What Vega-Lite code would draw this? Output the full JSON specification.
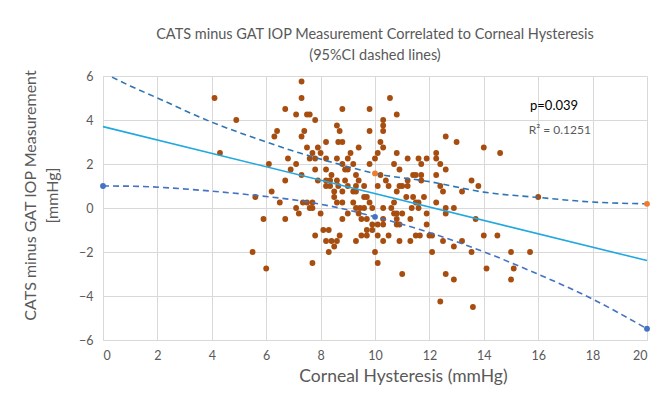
{
  "$schema": "https://vega.github.io/schema/vega-lite/v6.json",
  "width": 544,
  "height": 264,
  "autosize": {"type": "none"},
  "padding": {"left": 103, "top": 76, "right": 11, "bottom": 57},
  "background": "white",
  "config": {
    "font": "Lato",
    "view": {"stroke": null},
    "axis": {
      "gridColor": "#D9D9D9",
      "gridWidth": 1,
      "domainColor": "#D9D9D9",
      "ticks": false,
      "labelColor": "#595959",
      "labelFontSize": 12.5,
      "labelFont": "Lato",
      "titleColor": "#595959",
      "titleFont": "Lato",
      "titleFontSize": 16,
      "titleFontWeight": "normal"
    }
  },
  "title": {
    "text": ["CATS minus GAT IOP Measurement Correlated to Corneal Hysteresis", "(95%CI dashed lines)"],
    "font": "Lato",
    "fontSize": 14.5,
    "fontWeight": "normal",
    "color": "#595959",
    "anchor": "middle",
    "lineHeight": 21,
    "offset": 6
  },
  "datasets": {
    "pts": [
      {"ch": 4.1, "d": 5.0}, {"ch": 4.9, "d": 4.0}, {"ch": 4.3, "d": 2.5},
      {"ch": 7.3, "d": 5.75}, {"ch": 7.3, "d": 5.0}, {"ch": 6.7, "d": 4.5}, {"ch": 7.1, "d": 4.25}, {"ch": 7.5, "d": 4.25}, {"ch": 7.6, "d": 4.25}, {"ch": 7.8, "d": 4.0}, {"ch": 8.8, "d": 4.5},
      {"ch": 6.4, "d": 3.5}, {"ch": 6.3, "d": 3.25}, {"ch": 7.4, "d": 3.5}, {"ch": 7.3, "d": 3.25}, {"ch": 8.6, "d": 3.75}, {"ch": 8.7, "d": 3.5}, {"ch": 8.65, "d": 3.0}, {"ch": 8.8, "d": 3.0}, {"ch": 8.2, "d": 3.0},
      {"ch": 7.5, "d": 2.75}, {"ch": 7.9, "d": 2.75}, {"ch": 7.7, "d": 2.5}, {"ch": 8.0, "d": 2.5}, {"ch": 7.6, "d": 2.25}, {"ch": 7.8, "d": 2.25}, {"ch": 8.2, "d": 2.25}, {"ch": 6.8, "d": 2.25}, {"ch": 7.1, "d": 2.0}, {"ch": 6.1, "d": 2.0},
      {"ch": 6.9, "d": 1.75}, {"ch": 7.8, "d": 1.75}, {"ch": 7.3, "d": 1.5}, {"ch": 6.7, "d": 1.25}, {"ch": 7.9, "d": 1.25}, {"ch": 8.4, "d": 1.5}, {"ch": 8.6, "d": 2.25}, {"ch": 8.8, "d": 2.0}, {"ch": 9.1, "d": 2.5}, {"ch": 9.0, "d": 2.25},
      {"ch": 9.4, "d": 2.75}, {"ch": 9.2, "d": 2.0}, {"ch": 8.9, "d": 1.75}, {"ch": 9.0, "d": 1.75}, {"ch": 8.2, "d": 1.75}, {"ch": 9.3, "d": 1.5}, {"ch": 8.2, "d": 1.25}, {"ch": 8.35, "d": 1.25}, {"ch": 8.6, "d": 1.25}, {"ch": 8.9, "d": 1.25}, {"ch": 9.4, "d": 1.25},
      {"ch": 8.2, "d": 1.0}, {"ch": 8.35, "d": 1.0}, {"ch": 8.65, "d": 1.0}, {"ch": 9.0, "d": 1.0}, {"ch": 9.3, "d": 1.0}, {"ch": 9.6, "d": 1.0},
      {"ch": 10.55, "d": 5.0}, {"ch": 9.8, "d": 4.5}, {"ch": 10.8, "d": 4.25}, {"ch": 10.3, "d": 4.0}, {"ch": 10.3, "d": 3.75}, {"ch": 10.3, "d": 3.5}, {"ch": 9.8, "d": 3.5}, {"ch": 10.2, "d": 3.0}, {"ch": 10.3, "d": 2.75},
      {"ch": 12.6, "d": 3.25}, {"ch": 13.0, "d": 3.0}, {"ch": 10.1, "d": 2.5}, {"ch": 10.8, "d": 2.5}, {"ch": 10.0, "d": 2.25}, {"ch": 11.2, "d": 2.25}, {"ch": 11.6, "d": 2.25}, {"ch": 11.9, "d": 2.25}, {"ch": 12.25, "d": 2.5}, {"ch": 12.25, "d": 2.25},
      {"ch": 9.8, "d": 2.0}, {"ch": 10.7, "d": 2.0}, {"ch": 11.7, "d": 2.0}, {"ch": 12.4, "d": 2.0}, {"ch": 10.9, "d": 1.75}, {"ch": 12.6, "d": 1.75}, {"ch": 10.2, "d": 1.5}, {"ch": 11.4, "d": 1.5}, {"ch": 11.5, "d": 1.5}, {"ch": 11.7, "d": 1.5}, {"ch": 12.25, "d": 1.5},
      {"ch": 10.4, "d": 1.25}, {"ch": 11.2, "d": 1.25}, {"ch": 11.7, "d": 1.25}, {"ch": 13.55, "d": 1.25},
      {"ch": 10.1, "d": 1.0}, {"ch": 10.5, "d": 1.0}, {"ch": 10.9, "d": 1.0}, {"ch": 11.0, "d": 1.0}, {"ch": 11.2, "d": 1.0}, {"ch": 12.4, "d": 1.0}, {"ch": 13.8, "d": 1.0},
      {"ch": 8.5, "d": 0.75}, {"ch": 8.8, "d": 0.75}, {"ch": 9.2, "d": 0.75}, {"ch": 9.3, "d": 0.75}, {"ch": 6.2, "d": 0.75}, {"ch": 5.6, "d": 0.5}, {"ch": 8.5, "d": 0.5}, {"ch": 9.6, "d": 0.5},
      {"ch": 6.5, "d": 0.25}, {"ch": 7.35, "d": 0.25}, {"ch": 7.5, "d": 0.25}, {"ch": 7.7, "d": 0.25}, {"ch": 8.6, "d": 0.25}, {"ch": 8.8, "d": 0.25}, {"ch": 9.2, "d": 0.25},
      {"ch": 7.1, "d": 0.0}, {"ch": 7.6, "d": 0.0}, {"ch": 7.7, "d": 0.0}, {"ch": 9.3, "d": 0.0}, {"ch": 9.45, "d": 0.0}, {"ch": 9.6, "d": 0.0},
      {"ch": 7.2, "d": -0.25}, {"ch": 8.0, "d": -0.25}, {"ch": 9.0, "d": -0.25}, {"ch": 9.4, "d": -0.25}, {"ch": 5.9, "d": -0.5}, {"ch": 6.7, "d": -0.5}, {"ch": 8.8, "d": -0.5}, {"ch": 9.5, "d": -0.5},
      {"ch": 8.1, "d": -1.0}, {"ch": 8.3, "d": -1.0}, {"ch": 7.8, "d": -1.25}, {"ch": 8.7, "d": -1.25}, {"ch": 8.2, "d": -1.5}, {"ch": 8.4, "d": -1.5}, {"ch": 8.6, "d": -1.5}, {"ch": 9.5, "d": -1.25}, {"ch": 9.3, "d": -1.5}, {"ch": 8.5, "d": -1.75},
      {"ch": 8.3, "d": -2.0}, {"ch": 5.5, "d": -2.0}, {"ch": 7.7, "d": -2.5}, {"ch": 6.0, "d": -2.75},
      {"ch": 12.5, "d": 0.75}, {"ch": 13.2, "d": 0.75}, {"ch": 10.8, "d": 0.75}, {"ch": 9.7, "d": 0.5}, {"ch": 11.15, "d": 0.5}, {"ch": 11.4, "d": 0.5}, {"ch": 11.8, "d": 0.5},
      {"ch": 10.7, "d": 0.25}, {"ch": 11.5, "d": 0.25}, {"ch": 11.6, "d": 0.25}, {"ch": 12.25, "d": 0.25}, {"ch": 9.8, "d": 0.25},
      {"ch": 9.9, "d": 0.0}, {"ch": 10.3, "d": 0.0}, {"ch": 10.6, "d": 0.0}, {"ch": 11.35, "d": 0.0}, {"ch": 11.6, "d": 0.0}, {"ch": 12.6, "d": 0.0}, {"ch": 12.9, "d": 0.0},
      {"ch": 10.7, "d": -0.25}, {"ch": 10.8, "d": -0.25}, {"ch": 11.0, "d": -0.25}, {"ch": 11.9, "d": -0.25}, {"ch": 12.6, "d": -0.25},
      {"ch": 9.7, "d": -0.5}, {"ch": 10.3, "d": -0.5}, {"ch": 10.8, "d": -0.5}, {"ch": 11.3, "d": -0.5}, {"ch": 13.7, "d": -0.5},
      {"ch": 9.9, "d": -0.75}, {"ch": 10.1, "d": -0.75}, {"ch": 10.3, "d": -0.75}, {"ch": 10.8, "d": -0.75}, {"ch": 10.9, "d": -0.75}, {"ch": 11.9, "d": -0.75},
      {"ch": 9.7, "d": -1.0}, {"ch": 9.9, "d": -1.0}, {"ch": 9.7, "d": -1.25}, {"ch": 10.1, "d": -1.25}, {"ch": 10.5, "d": -1.25}, {"ch": 11.5, "d": -1.25}, {"ch": 11.65, "d": -1.25}, {"ch": 12.0, "d": -1.25}, {"ch": 12.1, "d": -1.25},
      {"ch": 10.3, "d": -1.5}, {"ch": 10.9, "d": -1.5}, {"ch": 11.3, "d": -1.5}, {"ch": 12.5, "d": -1.5}, {"ch": 13.2, "d": -1.5}, {"ch": 12.9, "d": -1.75},
      {"ch": 10.0, "d": -2.0}, {"ch": 12.1, "d": -2.0}, {"ch": 13.55, "d": -2.0}, {"ch": 10.1, "d": -2.5}, {"ch": 11.0, "d": -3.0}, {"ch": 12.6, "d": -3.0}, {"ch": 12.9, "d": -3.25},
      {"ch": 12.4, "d": -4.25}, {"ch": 13.6, "d": -4.5}, {"ch": 14.1, "d": -2.75}, {"ch": 14.0, "d": -1.25},
      {"ch": 14.0, "d": 2.75}, {"ch": 14.6, "d": 2.5}, {"ch": 16.0, "d": 0.5}, {"ch": 14.5, "d": -1.25}, {"ch": 15.0, "d": -2.0}, {"ch": 15.7, "d": -2.0}, {"ch": 15.1, "d": -2.75}, {"ch": 15.0, "d": -3.25}
    ],
    "fit": [{"ch": 0, "d": 3.7}, {"ch": 20, "d": -2.39}],
    "upper": [
      {"ch": 0, "d": 6.15}, {"ch": 1, "d": 5.55}, {"ch": 2, "d": 5.0}, {"ch": 4, "d": 3.9}, {"ch": 5.4, "d": 3.26}, {"ch": 7.24, "d": 2.5}, {"ch": 8.5, "d": 2.05}, {"ch": 10, "d": 1.57}, {"ch": 12, "d": 1.2}, {"ch": 14, "d": 0.72}, {"ch": 16, "d": 0.48}, {"ch": 18, "d": 0.27}, {"ch": 20, "d": 0.19}
    ],
    "lower": [
      {"ch": 0, "d": 1.0}, {"ch": 1.1, "d": 0.99}, {"ch": 3.57, "d": 0.81}, {"ch": 5.4, "d": 0.6}, {"ch": 7.24, "d": 0.33}, {"ch": 8.5, "d": 0.05}, {"ch": 10, "d": -0.4}, {"ch": 11.65, "d": -0.98}, {"ch": 13.68, "d": -1.84}, {"ch": 15.94, "d": -2.98}, {"ch": 17.9, "d": -4.08}, {"ch": 20, "d": -5.49}
    ],
    "bluePts": [{"ch": 0, "d": 1.0}, {"ch": 10, "d": -0.4}, {"ch": 20, "d": -5.49}],
    "orangePts": [{"ch": 10, "d": 1.57}, {"ch": 20, "d": 0.19}],
    "notes": [
      {"ch": 15.7, "d": 4.65, "label": "p=0.039", "kind": "p"},
      {"ch": 15.65, "d": 3.55, "label": "R² = 0.1251", "kind": "r"}
    ]
  },
  "layer": [
    {
      "data": {"name": "pts"},
      "mark": {"type": "circle", "size": 34, "color": "#A64D0F", "opacity": 1},
      "encoding": {
        "x": {"field": "ch", "type": "quantitative", "scale": {"domain": [0, 20], "nice": false},
          "axis": {"values": [0, 2, 4, 6, 8, 10, 12, 14, 16, 18, 20], "title": "Corneal Hysteresis (mmHg)", "labelPadding": 9, "titlePadding": 6, "titleFontSize": 17.5, "titleX": 300, "grid": true}},
        "y": {"field": "d", "type": "quantitative", "scale": {"domain": [-6, 6], "nice": false},
          "axis": {"values": [-6, -4, -2, 0, 2, 4, 6], "title": ["CATS minus GAT IOP Measurement", "[mmHg]"], "labelPadding": 10, "titlePadding": 18, "titleY": 119, "grid": true, "titleLineHeight": 22}}
      }
    },
    {
      "data": {"name": "fit"},
      "mark": {"type": "line", "color": "#22A8E0", "strokeWidth": 1.6},
      "encoding": {
        "x": {"field": "ch", "type": "quantitative"},
        "y": {"field": "d", "type": "quantitative"}
      }
    },
    {
      "data": {"name": "upper"},
      "mark": {"type": "line", "color": "#2E75B6", "strokeWidth": 1.6, "strokeDash": [6, 4], "interpolate": "monotone", "clip": true},
      "encoding": {
        "x": {"field": "ch", "type": "quantitative"},
        "y": {"field": "d", "type": "quantitative"}
      }
    },
    {
      "data": {"name": "lower"},
      "mark": {"type": "line", "color": "#4472C4", "strokeWidth": 1.6, "strokeDash": [6, 4], "interpolate": "monotone"},
      "encoding": {
        "x": {"field": "ch", "type": "quantitative"},
        "y": {"field": "d", "type": "quantitative"}
      }
    },
    {
      "data": {"name": "bluePts"},
      "mark": {"type": "circle", "size": 34, "color": "#4472C4", "opacity": 1, "clip": false},
      "encoding": {
        "x": {"field": "ch", "type": "quantitative"},
        "y": {"field": "d", "type": "quantitative"}
      }
    },
    {
      "data": {"name": "orangePts"},
      "mark": {"type": "circle", "size": 34, "color": "#ED7D31", "opacity": 1},
      "encoding": {
        "x": {"field": "ch", "type": "quantitative"},
        "y": {"field": "d", "type": "quantitative"}
      }
    },
    {
      "data": {"name": "notes"},
      "mark": {"type": "text", "align": "left", "baseline": "middle", "font": "Lato"},
      "encoding": {
        "x": {"field": "ch", "type": "quantitative"},
        "y": {"field": "d", "type": "quantitative"},
        "text": {"field": "label"},
        "color": {"field": "kind", "type": "nominal", "scale": {"domain": ["p", "r"], "range": ["#000000", "#595959"]}, "legend": null},
        "size": {"field": "kind", "type": "nominal", "scale": {"domain": ["p", "r"], "range": [13, 12]}, "legend": null}
      }
    }
  ]
}
